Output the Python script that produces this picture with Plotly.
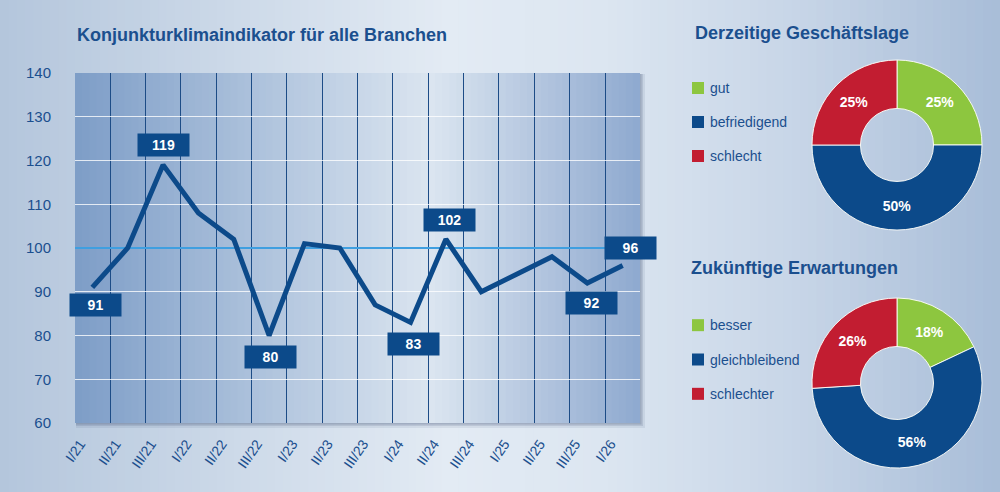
import plotly.graph_objects as go

# Konjunkturklima data
quarters = ['I/21', 'II/21', 'III/21', 'I/22', 'II/22', 'III/22', 'I/23', 'II/23',
            'III/23', 'I/24', 'II/24', 'III/24', 'I/25', 'II/25', 'III/25', 'I/26']
klima = [91, 100, 119, 108, 102, 80, 101, 100, 87, 83, 102, 90, 94, 98, 92, 96]
reference_level = 100
labelled = [0, 2, 5, 9, 10, 14, 15]

lage_labels = ['gut', 'befriedigend', 'schlecht']
lage_values = [25, 50, 25]
erw_labels = ['besser', 'gleichbleibend', 'schlechter']
erw_values = [18, 56, 26]

# styles
W, H = 1000, 492
FONT = 'Arial, Liberation Sans, sans-serif'
DARK = '#0c4a8a'
TEXT = '#1b4f8e'
slice_colors = ['#8dc63f', '#0c4a8a', '#c21d31']
# label box offsets in px (x, y) per labelled point
label_shift = {0: (3, -18), 2: (0, 20), 5: (1, -21), 9: (3, -22),
               10: (4, 19), 14: (4, -20), 15: (8, 18)}

plot_x = [75 / W, 640 / W]
plot_y = [(H - 423) / H, (H - 73) / H]


def hex2rgb(h):
    h = h.lstrip('#')
    return [int(h[i:i + 2], 16) for i in (0, 2, 4)]


def blend(stops, t):
    for (t0, c0), (t1, c1) in zip(stops[:-1], stops[1:]):
        if t0 <= t <= t1:
            f = (t - t0) / (t1 - t0)
            a, b = hex2rgb(c0), hex2rgb(c1)
            return 'rgb(%d,%d,%d)' % tuple(round(a[i] + (b[i] - a[i]) * f) for i in range(3))
    return stops[-1][1]


paper_stops = [(0, '#b4c6dc'), (0.45, '#e3ebf4'), (0.6, '#dce6f1'), (0.8, '#c7d5e7'), (1, '#a8bdd8')]
plot_stops = [(0, '#7d9dc7'), (0.63, '#dbe5f0'), (1, '#8ea9cf')]

shapes = []
n = 120
for i in range(n):
    shapes.append(dict(type='rect', xref='paper', yref='paper', layer='below',
                       x0=i / n, x1=(i + 1.5) / n, y0=0, y1=1, line_width=0,
                       fillcolor=blend(paper_stops, (i + 0.5) / n)))
# soft shadow behind the plot area
for k, a in [(5, 0.08), (3, 0.12), (1.5, 0.15)]:
    shapes.append(dict(type='rect', xref='paper', yref='paper', layer='below',
                       x0=plot_x[0] + 1 / W, x1=plot_x[1] + k / W,
                       y0=plot_y[0] - k / H, y1=plot_y[1] - 1 / H, line_width=0,
                       fillcolor='rgba(30,50,90,%s)' % a))
n = 80
span = plot_x[1] - plot_x[0]
for i in range(n):
    shapes.append(dict(type='rect', xref='paper', yref='paper', layer='below',
                       x0=plot_x[0] + span * i / n,
                       x1=min(plot_x[1], plot_x[0] + span * (i + 1.5) / n),
                       y0=plot_y[0], y1=plot_y[1], line_width=0,
                       fillcolor=blend(plot_stops, (i + 0.5) / n)))
shapes.append(dict(type='line', xref='x', yref='y', layer='between',
                   x0=-0.5, x1=len(quarters) - 0.5, y0=reference_level, y1=reference_level,
                   line=dict(color='#3f9fe0', width=2)))

fig = go.Figure()
fig.add_trace(go.Scatter(x=quarters, y=klima, mode='lines', hoverinfo='x+y',
                         line=dict(color=DARK, width=5), showlegend=False))

annotations = []
for i in labelled:
    dx, dy = label_shift[i]
    annotations.append(dict(x=quarters[i], y=klima[i], xref='x', yref='y', text=str(klima[i]),
                            showarrow=False, xshift=dx, yshift=dy, width=51, height=22,
                            bgcolor=DARK, borderpad=0,
                            font=dict(family=FONT, size=14, color='white', weight='bold')))

titles = [('Konjunkturklimaindikator für alle Branchen', 75, 35),
          ('Derzeitige Geschäftslage', 693, 33),
          ('Zukünftige Erwartungen', 689, 268)]
for txt, px_x, px_y in titles:
    annotations.append(dict(x=px_x / W, y=(H - px_y) / H, xref='paper', yref='paper',
                            xanchor='left', yanchor='middle', showarrow=False, text=txt,
                            font=dict(family=FONT, size=18, color=TEXT, weight='bold')))

# donuts
for labels, values, dom in [(lage_labels, lage_values, [60, 230]),
                            (erw_labels, erw_values, [298, 468])]:
    fig.add_trace(go.Pie(labels=labels, values=values, sort=False, direction='clockwise',
                         rotation=0, hole=0.43, showlegend=False,
                         domain=dict(x=[812 / W, 982 / W], y=[(H - dom[1]) / H, (H - dom[0]) / H]),
                         marker=dict(colors=slice_colors, line=dict(color='rgba(255,255,250,0.9)', width=1)),
                         texttemplate='%{value}%', textposition='inside',
                         insidetextorientation='horizontal',
                         textfont=dict(family=FONT, size=14, color='white', weight='bold'),
                         hovertemplate='%{label}: %{value}%<extra></extra>'))

# legends of the donuts: squares as markers, names as annotations next to them
for k, labels in [(2, lage_labels), (3, erw_labels)]:
    fig.add_trace(go.Scatter(x=[0] * len(labels), y=list(range(len(labels))),
                             mode='markers', cliponaxis=False, hoverinfo='skip', showlegend=False,
                             marker=dict(symbol='square', size=12, color=slice_colors, line_width=0),
                             xaxis='x%d' % k, yaxis='y%d' % k))
    for j, lab in enumerate(labels):
        annotations.append(dict(x=0, y=j, xref='x%d' % k, yref='y%d' % k, text=lab,
                                showarrow=False, xanchor='left', yanchor='middle', xshift=10,
                                font=dict(family=FONT, size=14, color=TEXT)))

hidden = dict(visible=False, showgrid=False, zeroline=False, fixedrange=True)
fig.update_layout(
    width=W, height=H, margin=dict(l=0, r=0, t=0, b=0),
    paper_bgcolor='#cbd8e8', plot_bgcolor='rgba(0,0,0,0)',
    font=dict(family=FONT, color=TEXT),
    shapes=shapes, annotations=annotations,
    xaxis=dict(domain=plot_x, type='category', range=[-0.49, len(quarters) - 0.51],
               tickson='boundaries', showgrid=True, gridcolor='#1d4c86', gridwidth=1,
               ticks='outside', ticklen=17, tickcolor='rgba(0,0,0,0)', tickangle=-55,
               ticklabelshift=-12, ticklabelstandoff=9,
               tickfont=dict(size=14, color=TEXT), zeroline=False, showline=False,
               automargin=False, fixedrange=True),
    yaxis=dict(domain=plot_y, range=[60, 140], dtick=10, showgrid=True,
               gridcolor='rgba(255,255,255,0.78)', gridwidth=1, ticks='outside', ticklen=20,
               tickcolor='rgba(0,0,0,0)', tickfont=dict(size=15, color=TEXT),
               zeroline=False, showline=False, automargin=False, fixedrange=True),
    xaxis2=dict(hidden, domain=[698 / W, 800 / W], range=[0, 1], anchor='y2'),
    yaxis2=dict(hidden, domain=[(H - 173) / H, (H - 71) / H], range=[2.5, -0.5], anchor='x2'),
    xaxis3=dict(hidden, domain=[698 / W, 800 / W], range=[0, 1], anchor='y3'),
    yaxis3=dict(hidden, domain=[(H - 411) / H, (H - 308) / H], range=[2.5, -0.5], anchor='x3'),
)

fig.write_html("out.html", config={'displayModeBar': False},
               post_script="document.body.style.margin='0px';")
